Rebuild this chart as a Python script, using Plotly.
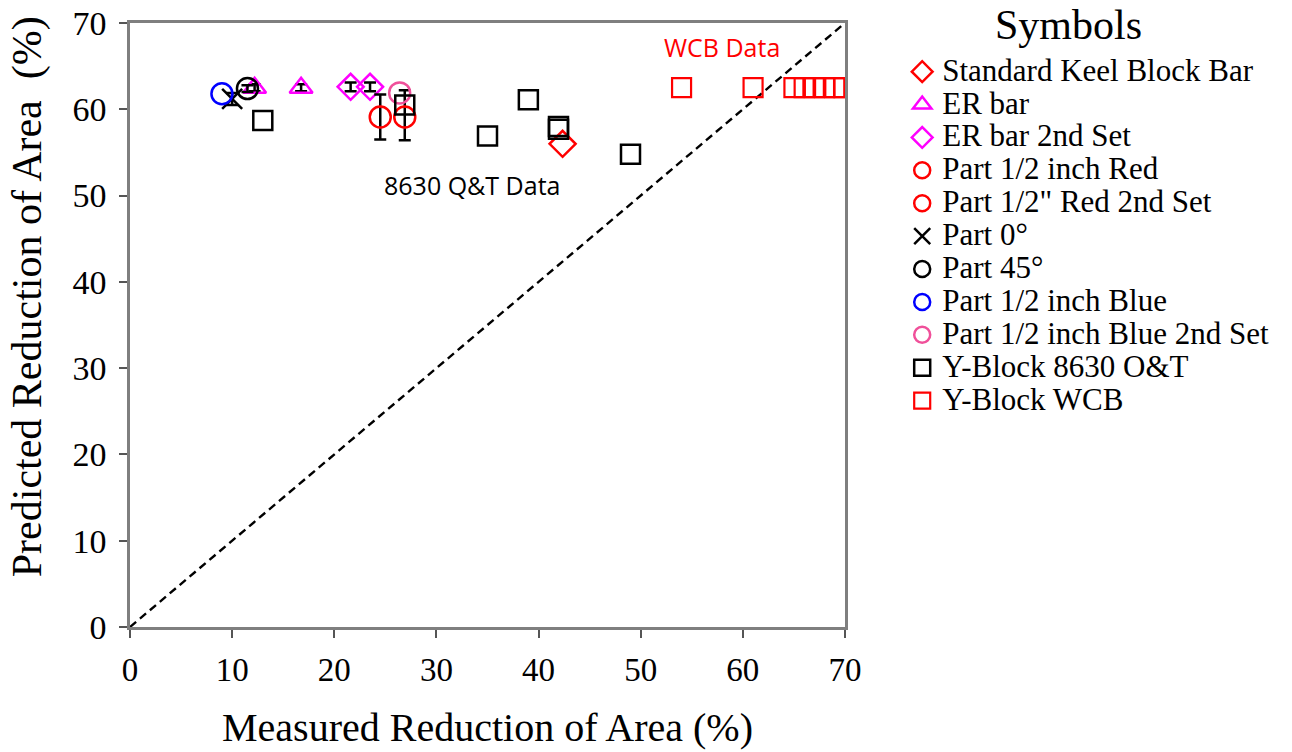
import plotly.graph_objects as go

# ---- data ----
keel_x = [42.35]; keel_y = [56.0]
er_x = [12.2, 16.75]; er_y = [62.5, 62.5]; er_err = [0.4, 0.4]
er2_x = [21.6, 23.5]; er2_y = [62.6, 62.6]; er2_err = [0.5, 0.5]
red_x = [24.5]; red_y = [59.1]; red_err = [2.6]
red2_x = [26.9]; red2_y = [59.1]; red2_err_up = [3.1]; red2_err_dn = [2.7]
p0_x = [10.0]; p0_y = [61.2]; p0_err = [0.7]
p45_x = [11.5]; p45_y = [62.4]; p45_err = [0.4]
blue_x = [9.0]; blue_y = [61.8]
blue2_x = [26.4]; blue2_y = [61.9]
qt_x = [13.0, 26.9, 35.0, 39.0, 41.95, 41.95, 49.0]
qt_y = [58.7, 60.5, 56.9, 61.1, 58.0, 57.7, 54.8]
wcb_x = [54.0, 61.0, 65.0, 66.0, 67.0, 68.0, 69.0, 69.9]
wcb_y = [62.5, 62.5, 62.5, 62.5, 62.5, 62.5, 62.5, 62.5]
diag = [0, 70]
ticks = [0, 10, 20, 30, 40, 50, 60, 70]

SERIF = "Liberation Serif"
LEGFS = 31


def nm(s):
    return f'<span style="font-size:{LEGFS}px">{s}</span>'


def ebar(arr, arrminus=None):
    d = dict(type="data", array=arr, color="black", thickness=2.5, width=6)
    if arrminus is not None:
        d["symmetric"] = False
        d["arrayminus"] = arrminus
    return d


fig = go.Figure()

fig.add_trace(go.Scatter(x=diag, y=diag, mode="lines", showlegend=False,
                         line=dict(color="black", width=2.4, dash="8px,5px"),
                         hoverinfo="skip"))

def add(x, y, name, symbol, color, size, err=None, lw=2.5):
    fig.add_trace(go.Scatter(
        x=x, y=y, mode="markers", name=nm(name),
        marker=dict(symbol=symbol, size=size, color=color,
                    line=dict(color=color, width=lw)),
        error_y=err if err is not None else dict(visible=False)))

add(keel_x, keel_y, "Standard Keel Block Bar", "diamond-open", "#FF0000", 20)
add(er_x, er_y, "ER bar", "triangle-up-open", "#FF00FF", 20, ebar(er_err))
add(er2_x, er2_y, "ER bar 2nd Set", "diamond-open", "#FF00FF", 20, ebar(er2_err))
add(red_x, red_y, "Part 1/2 inch Red", "circle-open", "#FF0000", 21, ebar(red_err))
add(red2_x, red2_y, "Part 1/2\" Red 2nd Set", "circle-open", "#FF0000", 21, ebar(red2_err_up, red2_err_dn))
add(p0_x, p0_y, "Part 0°", "x-thin-open", "#000000", 20, ebar(p0_err))
add(p45_x, p45_y, "Part 45°", "circle-open", "#000000", 21, ebar(p45_err))
add(blue_x, blue_y, "Part 1/2 inch Blue", "circle-open", "#0000FF", 21)
add(blue2_x, blue2_y, "Part 1/2 inch Blue 2nd Set", "circle-open", "#F0509A", 21)
add(qt_x, qt_y, "Y-Block 8630 O&T", "square-open", "#000000", 19)
add(wcb_x, wcb_y, "Y-Block WCB", "square-open", "#FF0000", 19, lw=2.2)

fig.add_annotation(x=58.0, y=67.2, text="WCB Data", showarrow=False,
                   font=dict(family="Open Sans", size=25, color="#FF0000"))
fig.add_annotation(x=33.5, y=51.2, text="8630 Q&T Data", showarrow=False,
                   font=dict(family="Open Sans", size=25, color="#000000"))
# legend heading
fig.add_annotation(xref="paper", yref="paper", x=1.312, y=0.997,
                   xanchor="center", yanchor="middle",
                   text="Symbols", showarrow=False,
                   font=dict(family=SERIF, size=42, color="black"))
# y-axis title
fig.add_annotation(xref="paper", yref="paper", x=-0.144, y=0.546,
                   xanchor="center", yanchor="middle",
                   text="Predicted Reduction of Area  (%)", showarrow=False,
                   textangle=-90,
                   font=dict(family=SERIF, size=42, color="black"))

fig.update_layout(
    width=1292, height=752,
    margin=dict(l=130, r=447, t=23, b=125, autoexpand=False),
    plot_bgcolor="white", paper_bgcolor="white",
    font=dict(family=SERIF, color="black"),
    legend=dict(
        x=1.08, y=0.955, xanchor="left", yanchor="top",
        font=dict(family=SERIF, size=23, color="black"),
        itemwidth=30, bgcolor="rgba(0,0,0,0)", tracegroupgap=0,
        maxheight=700,
    ),
    xaxis=dict(
        range=[0, 70], tickvals=ticks,
        showgrid=False, zeroline=False, showline=True, linecolor="#7f7f7f",
        linewidth=2.5, mirror=True, ticks="outside", ticklen=8, tickwidth=1.5,
        tickcolor="#555555", ticklabelstandoff=4,
        tickfont=dict(family=SERIF, size=33, color="black"),
        title=dict(text="Measured Reduction of Area (%)", standoff=26,
                   font=dict(family=SERIF, size=40, color="black")),
    ),
    yaxis=dict(
        range=[0, 70], tickvals=ticks,
        showgrid=False, zeroline=False, showline=True, linecolor="#7f7f7f",
        linewidth=2.5, mirror=True, ticks="outside", ticklen=8, tickwidth=1.5,
        tickcolor="#555555", ticklabelstandoff=6,
        tickfont=dict(family=SERIF, size=34, color="black"),
    ),
)

fig.write_html("out.html", config={"displayModeBar": False},
               post_script="document.body.style.margin='0px';")
